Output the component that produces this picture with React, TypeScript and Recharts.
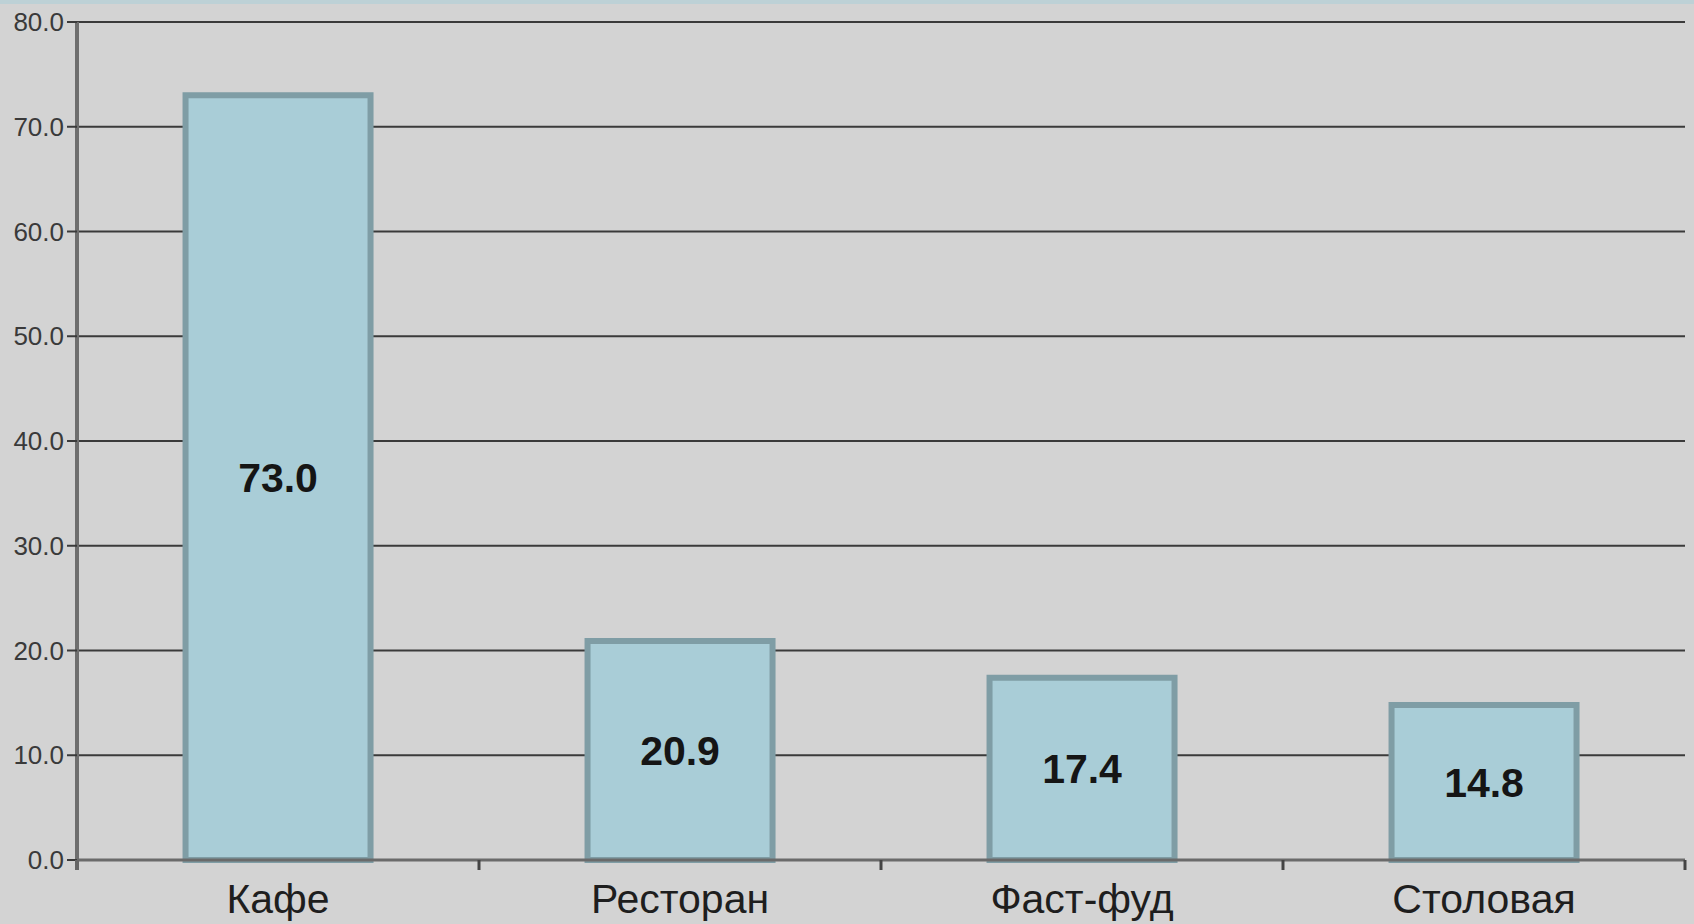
import { Bar, BarChart, CartesianGrid, LabelList, XAxis, YAxis } from "recharts";

const categories = ["Кафе", "Ресторан", "Фаст-фуд", "Столовая"];
const values = [73.0, 20.9, 17.4, 14.8];
const yTicks = [0, 10, 20, 30, 40, 50, 60, 70, 80];

const data = categories.map((name, i) => ({ name, value: values[i] }));

const FONT = "'Liberation Sans', Arial, sans-serif";

function CategoryTick(props: any) {
  const { x, y, payload, index, width } = props;
  const band = width / categories.length;
  return (
    <g>
      <line x1={x + band / 2} x2={x + band / 2} y1={y - 10} y2={y} stroke="#444" strokeWidth={3} />
      {index === 0 && (
        <line x1={x - band / 2} x2={x - band / 2} y1={y - 10} y2={y} stroke="#666" strokeWidth={4} />
      )}
      <text x={x} y={y + 43} textAnchor="middle" fontSize={41} fill="#1e1e1e" fontFamily={FONT}>
        {payload.value}
      </text>
    </g>
  );
}

export default function App() {
  return (
    <div
      style={{
        position: "absolute",
        left: 0,
        top: 0,
        width: 1694,
        height: 924,
        background: "#d3d3d3",
        borderTop: "4px solid #bdd1d6",
        boxSizing: "border-box",
        fontFamily: FONT,
      }}
    >
      <BarChart
        width={1694}
        height={924}
        data={data}
        margin={{ top: 22, right: 9, bottom: 0, left: 0 }}
        barCategoryGap="27%"
        style={{ position: "absolute", top: -4, left: 0 }}
      >
        <CartesianGrid vertical={false} stroke="#3a3a3a" strokeWidth={2} />
        <YAxis
          type="number"
          domain={[0, 80]}
          ticks={yTicks}
          width={77}
          tickSize={10}
          tickMargin={3}
          tickFormatter={(v: number) => v.toFixed(1)}
          tick={{ fontSize: 26, fill: "#3a3a3a", fontFamily: FONT }}
          tickLine={{ stroke: "#3a3a3a", strokeWidth: 2 }}
          axisLine={{ stroke: "#6e6e6e", strokeWidth: 4 }}
          interval={0}
        />
        <XAxis
          dataKey="name"
          height={64}
          tickSize={10}
          tickMargin={0}
          tickLine={false}
          tick={<CategoryTick />}
          axisLine={{ stroke: "#6a6a6a", strokeWidth: 3 }}
          interval={0}
        />
        <Bar dataKey="value" fill="#a9cdd7" stroke="#7f9da5" strokeWidth={6} isAnimationActive={false}>
          <LabelList
            dataKey="value"
            position="center"
            formatter={(v: any) => Number(v).toFixed(1)}
            style={{ fontSize: 41, fontWeight: "bold", fill: "#151515", fontFamily: FONT }}
          />
        </Bar>
      </BarChart>
    </div>
  );
}
